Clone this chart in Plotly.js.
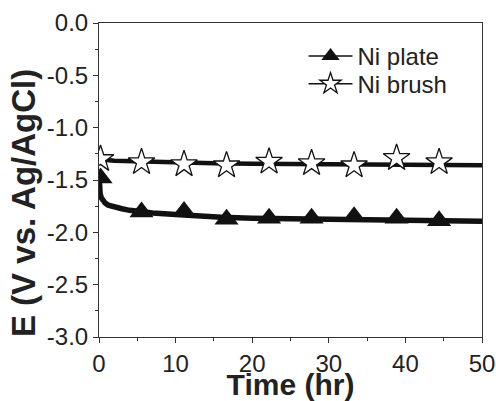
<!DOCTYPE html>
<html>
<head>
<meta charset="utf-8">
<script src="https://cdn.plot.ly/plotly-3.0.1.min.js"></script>
<style>html,body{margin:0;padding:0;background:#fff;}#chart{width:496px;height:401px;}</style>
</head>
<body>
<div id="chart"></div>
<script>
// Ni plate potential curve (hr, V)
const plateTime = [0, 0.05, 0.15, 0.3, 0.5, 0.8, 1.2, 2, 3, 4, 5, 7, 10, 13, 16, 20, 25, 30, 35, 40, 45, 50];
const plateE = [-1.45, -1.55, -1.63, -1.67, -1.70, -1.72, -1.74, -1.76, -1.775, -1.79, -1.80, -1.815, -1.83, -1.845, -1.855, -1.865, -1.87, -1.875, -1.88, -1.885, -1.885, -1.895];
// Ni brush potential curve
const brushTime = [0, 0.1, 0.3, 0.6, 1, 2, 4, 6, 10, 15, 20, 30, 40, 50];
const brushE = [-1.20, -1.25, -1.29, -1.30, -1.31, -1.315, -1.32, -1.325, -1.335, -1.34, -1.345, -1.35, -1.355, -1.36];
// marker positions
const markTime = [0.2, 5.55, 11.1, 16.65, 22.2, 27.75, 33.3, 38.85, 44.4];
const plateMarkE = [-1.48, -1.805, -1.80, -1.875, -1.865, -1.865, -1.85, -1.865, -1.89];
const brushMarkE = [-1.30, -1.33, -1.35, -1.36, -1.325, -1.34, -1.36, -1.29, -1.33];
const seriesNames = ["Ni plate", "Ni brush"];
const xTicks = [0, 10, 20, 30, 40, 50];
const yTicks = [-3, -2.5, -2, -1.5, -1, -0.5, 0];
const yTickText = ["-3.0", "-2.5", "-2.0", "-1.5", "-1.0", "-0.5", "0.0"];

const FONT = "Liberation Sans, Arial, sans-serif";
const traces = [
  {x: plateTime, y: plateE, mode: "lines", line: {color: "#111", width: 5.5}, showlegend: false, hoverinfo: "skip"},
  {x: brushTime, y: brushE, mode: "lines", line: {color: "#111", width: 4.5}, showlegend: false, hoverinfo: "skip"},
  {x: markTime, y: plateMarkE, mode: "markers", showlegend: false,
   marker: {symbol: "triangle-up", size: 21, color: "#111", line: {width: 0}}},
  {x: markTime, y: brushMarkE, mode: "markers", showlegend: false,
   marker: {symbol: "star", size: 20, color: "#fff", line: {width: 1.3, color: "#111"}}},
  {x: [null], y: [null], name: seriesNames[0], mode: "lines+markers", legend: "legend",
   line: {color: "#111", width: 1.5}, marker: {symbol: "triangle-up", size: 20, color: "#111", line: {width: 0}}},
  {x: [null], y: [null], name: seriesNames[1], mode: "lines+markers", legend: "legend2",
   line: {color: "#111", width: 1.5}, marker: {symbol: "star", size: 18, color: "#fff", line: {width: 1.3, color: "#111"}}}
];

const legendBase = {x: 0.534, xanchor: "left", yanchor: "top", bgcolor: "rgba(0,0,0,0)",
  font: {family: FONT, size: 24, color: "#222"}, itemwidth: 44};

const layout = {
  width: 496, height: 401,
  margin: {l: 99, r: 14, t: 23, b: 64},
  paper_bgcolor: "#fff", plot_bgcolor: "#fff",
  font: {family: FONT, color: "#222"},
  showlegend: true,
  legend: Object.assign({}, legendBase, {y: 0.965}),
  legend2: Object.assign({}, legendBase, {y: 0.877}),
  xaxis: {
    range: [0, 50], tickvals: xTicks, ticks: "outside", ticklen: 5, tickwidth: 1,
    tickcolor: "#333", showline: true, linecolor: "#333", linewidth: 1, mirror: true,
    showgrid: false, zeroline: false,
    tickfont: {family: FONT, size: 24, color: "#222"},
    minor: {tickvals: [5, 15, 25, 35, 45], ticks: "outside", ticklen: 3, tickcolor: "#333", showgrid: false},
    title: {text: "<b>Time (hr)</b>", font: {family: FONT, size: 30, color: "#222"}, standoff: 4}
  },
  yaxis: {
    range: [-3, 0], tickvals: yTicks, ticktext: yTickText,
    ticks: "outside", ticklen: 5, tickwidth: 1, tickcolor: "#333",
    showline: true, linecolor: "#333", linewidth: 1, mirror: true,
    showgrid: false, zeroline: false,
    tickfont: {family: FONT, size: 24, color: "#222"},
    minor: {tickvals: [-2.75, -2.25, -1.75, -1.25, -0.75, -0.25], ticks: "outside", ticklen: 3, tickcolor: "#333", showgrid: false},
    title: {text: "<b>E (V vs. Ag/AgCl)\u00A0\u00A0\u00A0\u00A0\u00A0</b>", font: {family: FONT, size: 33, color: "#222"}, standoff: 1}
  }
};
Plotly.newPlot("chart", traces, layout, {staticPlot: true, displayModeBar: false});
</script>
</body>
</html>
